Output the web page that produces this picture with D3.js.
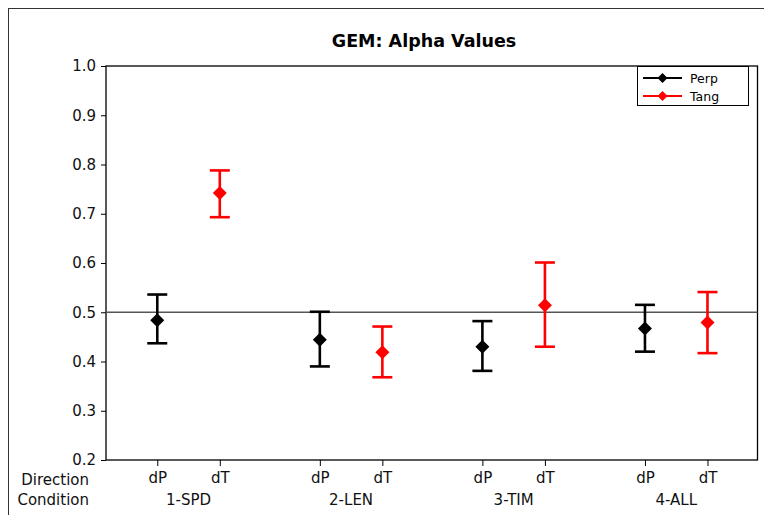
<!DOCTYPE html>
<html>
<head>
<meta charset="utf-8">
<script src="https://cdn.jsdelivr.net/npm/d3@7"></script>
<style>
  html, body { margin: 0; padding: 0; background: #fff; }
  svg { display: block; font-family: "DejaVu Sans", Verdana, sans-serif; }
</style>
</head>
<body>
<svg id="chart" width="764" height="515"></svg>
<script>
// Interval plot data: mean with lower/upper interval per condition and direction
const conditions = ["1-SPD", "2-LEN", "3-TIM", "4-ALL"];
const directions = ["dP", "dT"];
const seriesNames = ["Perp", "Tang"];
const seriesColors = ["#000000", "#ff0000"];

const perpMean  = [0.484, 0.444, 0.430, 0.467];
const perpLower = [0.437, 0.390, 0.381, 0.420];
const perpUpper = [0.536, 0.501, 0.482, 0.515];

const tangMean  = [0.742, 0.419, 0.514, 0.479];
const tangLower = [0.693, 0.368, 0.430, 0.417];
const tangUpper = [0.788, 0.471, 0.601, 0.541];

const yTicks = [0.2, 0.3, 0.4, 0.5, 0.6, 0.7, 0.8, 0.9, 1.0];
const refValue = 0.5;

const svg = d3.select("#chart");

const plot = { left: 106, right: 757.5, top: 66, bottom: 460 };

// outer frame
svg.append("rect")
  .attr("x", 8.5).attr("y", 8.5)
  .attr("width", 800).attr("height", 600)
  .attr("fill", "none").attr("stroke", "#333").attr("stroke-width", 1);

const y = d3.scaleLinear().domain([0.2, 1.0]).range([plot.bottom, plot.top]);

// positions: points within a condition 1 unit apart, conditions 2.6 units apart
const slot = (g, j) => 0.82 + g * 2.6 + j;
const x = d3.scaleLinear().domain([0, 10.42]).range([plot.left, plot.right]);

const points = [];
conditions.forEach((c, g) => {
  points.push({ g, j: 0, dir: directions[0], mean: perpMean[g], lo: perpLower[g], hi: perpUpper[g], color: seriesColors[0] });
  points.push({ g, j: 1, dir: directions[1], mean: tangMean[g], lo: tangLower[g], hi: tangUpper[g], color: seriesColors[1] });
});

// plot frame
svg.append("rect")
  .attr("x", plot.left).attr("y", plot.top)
  .attr("width", plot.right - plot.left).attr("height", plot.bottom - plot.top)
  .attr("fill", "none").attr("stroke", "#000").attr("stroke-width", 1.3);

// reference line
svg.append("line")
  .attr("x1", plot.left).attr("x2", plot.right)
  .attr("y1", y(refValue)).attr("y2", y(refValue))
  .attr("stroke", "#555").attr("stroke-width", 1.3);

// y axis
const yAxis = d3.axisLeft(y).tickValues(yTicks).tickFormat(d3.format(".1f")).tickSize(5).tickPadding(5);
const gy = svg.append("g").attr("transform", `translate(${plot.left},0)`).call(yAxis);
gy.select(".domain").remove();
gy.selectAll("text").attr("font-size", 15).attr("font-family", "DejaVu Sans, sans-serif").attr("fill", "#111");

// x axis ticks with direction labels
const xAxis = d3.axisBottom(x)
  .tickValues(points.map(p => slot(p.g, p.j)))
  .tickFormat((d, i) => points[i].dir)
  .tickSize(6).tickPadding(6);
const gx = svg.append("g").attr("transform", `translate(0,${plot.bottom})`).call(xAxis);
gx.select(".domain").remove();
gx.selectAll("text").attr("font-size", 15).attr("font-family", "DejaVu Sans, sans-serif").attr("fill", "#111");

// condition labels
svg.append("g").selectAll("text")
  .data(conditions)
  .join("text")
  .attr("x", (d, g) => x(slot(g, 0.5)))
  .attr("y", 505)
  .attr("text-anchor", "middle")
  .attr("font-size", 15).attr("fill", "#111")
  .text(d => d);

// row headers
svg.append("text").attr("x", 89).attr("y", 485).attr("text-anchor", "end")
  .attr("font-size", 15).attr("fill", "#111").text("Direction");
svg.append("text").attr("x", 89).attr("y", 505).attr("text-anchor", "end")
  .attr("font-size", 15).attr("fill", "#111").text("Condition");

// title
svg.append("text")
  .attr("x", 424).attr("y", 46.5)
  .attr("text-anchor", "middle")
  .attr("font-size", 17.5).attr("font-weight", "bold").attr("fill", "#000")
  .text("GEM: Alpha Values");

// error bars
const capHalf = 10;
const bars = svg.append("g").selectAll("g").data(points).join("g")
  .attr("stroke", d => d.color).attr("stroke-width", 2.6).attr("fill", "none");
bars.append("line")
  .attr("x1", d => x(slot(d.g, d.j))).attr("x2", d => x(slot(d.g, d.j)))
  .attr("y1", d => y(d.lo)).attr("y2", d => y(d.hi));
bars.append("line")
  .attr("x1", d => x(slot(d.g, d.j)) - capHalf).attr("x2", d => x(slot(d.g, d.j)) + capHalf)
  .attr("y1", d => y(d.hi)).attr("y2", d => y(d.hi));
bars.append("line")
  .attr("x1", d => x(slot(d.g, d.j)) - capHalf).attr("x2", d => x(slot(d.g, d.j)) + capHalf)
  .attr("y1", d => y(d.lo)).attr("y2", d => y(d.lo));

// mean diamonds
const diamond = (cx, cy, r) => `M${cx},${cy - r}L${cx + r},${cy}L${cx},${cy + r}L${cx - r},${cy}Z`;
svg.append("g").selectAll("path").data(points).join("path")
  .attr("d", d => diamond(x(slot(d.g, d.j)), y(d.mean), 7))
  .attr("fill", d => d.color);

// legend
const legend = svg.append("g").attr("transform", "translate(637,66)");
legend.append("rect").attr("x", 0.5).attr("y", 0.5).attr("width", 111).attr("height", 39)
  .attr("fill", "#fff").attr("stroke", "#000").attr("stroke-width", 1);
seriesNames.forEach((name, i) => {
  const ly = 12 + i * 18;
  legend.append("line").attr("x1", 6).attr("x2", 45).attr("y1", ly).attr("y2", ly)
    .attr("stroke", seriesColors[i]).attr("stroke-width", 2);
  legend.append("path").attr("d", diamond(25.5, ly, 5)).attr("fill", seriesColors[i]);
  legend.append("text").attr("x", 53).attr("y", ly + 4.5)
    .attr("font-size", 12.5).attr("fill", "#000").text(name);
});
</script>
</body>
</html>
